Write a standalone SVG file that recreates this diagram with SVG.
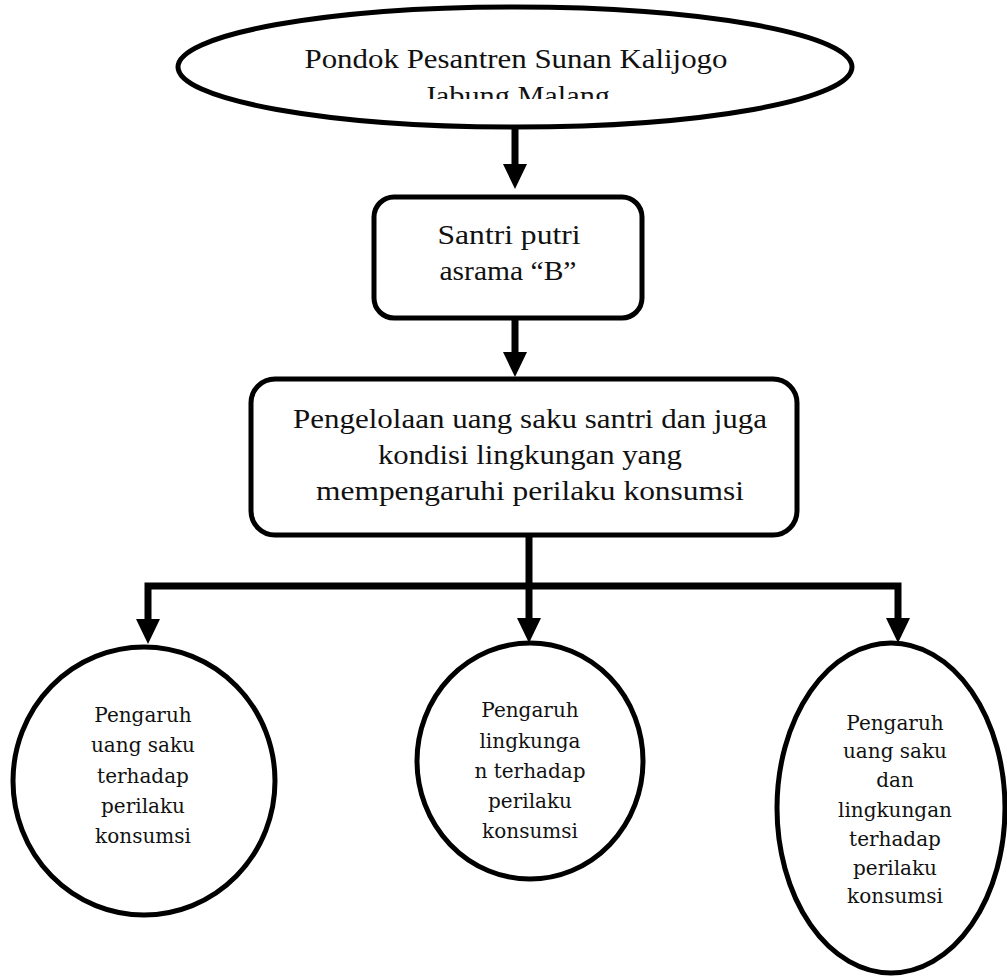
<svg xmlns="http://www.w3.org/2000/svg" width="1007" height="976" viewBox="0 0 1007 976">
<style>
.shape{fill:#fff;stroke:#000;stroke-width:5}
.t{font-family:"Liberation Serif","DejaVu Serif",serif;fill:#111;text-anchor:middle}
.big{font-size:28px}
.small{font-family:"DejaVu Serif","Liberation Serif",serif;font-size:20px}
.conn{fill:none;stroke:#000;stroke-width:7}
</style>
<defs>
<clipPath id="clipTop"><rect x="180" y="0" width="680" height="99"/></clipPath>
</defs>
<rect width="1007" height="976" fill="#fff"/>
<g id="connectors">
<line class="conn" x1="515" y1="128" x2="515" y2="168"/>
<line class="conn" x1="515" y1="318" x2="515" y2="356"/>
<line class="conn" x1="529" y1="536" x2="529" y2="622"/>
<polyline class="conn" points="148,624 148,586 898,586 898,622"/>
<path d="M503,164 L527,164 L515,189 Z"/>
<path d="M503,352 L527,352 L515,377 Z"/>
<path d="M136,619 L160,619 L148,644 Z"/>
<path d="M517,618 L541,618 L529,643 Z"/>
<path d="M886,618 L910,618 L898,643 Z"/>
</g>
<g id="node-pondok">
<ellipse class="shape" cx="515" cy="67" rx="337" ry="60"/>
<g clip-path="url(#clipTop)">
<text class="t big" x="516" y="68" textLength="423" lengthAdjust="spacingAndGlyphs">Pondok Pesantren Sunan Kalijogo</text>
<text class="t big" x="517" y="105" textLength="186" lengthAdjust="spacingAndGlyphs">Jabung Malang</text>
</g>
</g>
<g id="node-santri">
<rect class="shape" x="374" y="197" width="268" height="121" rx="20"/>
<text class="t big" x="509" y="244" textLength="143" lengthAdjust="spacingAndGlyphs">Santri putri</text>
<text class="t big" x="508" y="280" textLength="137" lengthAdjust="spacingAndGlyphs">asrama “B”</text>
</g>
<g id="node-pengelolaan">
<rect class="shape" x="251" y="379" width="546" height="156" rx="24"/>
<text class="t big" x="530" y="428" textLength="474" lengthAdjust="spacingAndGlyphs">Pengelolaan uang saku santri dan juga</text>
<text class="t big" x="530" y="464" textLength="304" lengthAdjust="spacingAndGlyphs">kondisi lingkungan yang</text>
<text class="t big" x="530" y="500" textLength="428" lengthAdjust="spacingAndGlyphs">mempengaruhi perilaku konsumsi</text>
</g>
<g id="node-uangsaku">
<ellipse class="shape" cx="144" cy="781" rx="131" ry="134"/>
<text class="t small" x="143" y="722">Pengaruh</text>
<text class="t small" x="143" y="752">uang saku</text>
<text class="t small" x="143" y="783">terhadap</text>
<text class="t small" x="143" y="813">perilaku</text>
<text class="t small" x="143" y="843">konsumsi</text>
</g>
<g id="node-lingkungan">
<ellipse class="shape" cx="530" cy="761" rx="113" ry="118"/>
<text class="t small" x="530" y="717">Pengaruh</text>
<text class="t small" x="530" y="748">lingkunga</text>
<text class="t small" x="530" y="778">n terhadap</text>
<text class="t small" x="530" y="808">perilaku</text>
<text class="t small" x="530" y="838">konsumsi</text>
</g>
<g id="node-keduanya">
<ellipse class="shape" cx="891" cy="808" rx="114" ry="165"/>
<text class="t small" x="895" y="730">Pengaruh</text>
<text class="t small" x="895" y="758">uang saku</text>
<text class="t small" x="895" y="787">dan</text>
<text class="t small" x="895" y="817">lingkungan</text>
<text class="t small" x="895" y="846">terhadap</text>
<text class="t small" x="895" y="875">perilaku</text>
<text class="t small" x="895" y="903">konsumsi</text>
</g>
</svg>
